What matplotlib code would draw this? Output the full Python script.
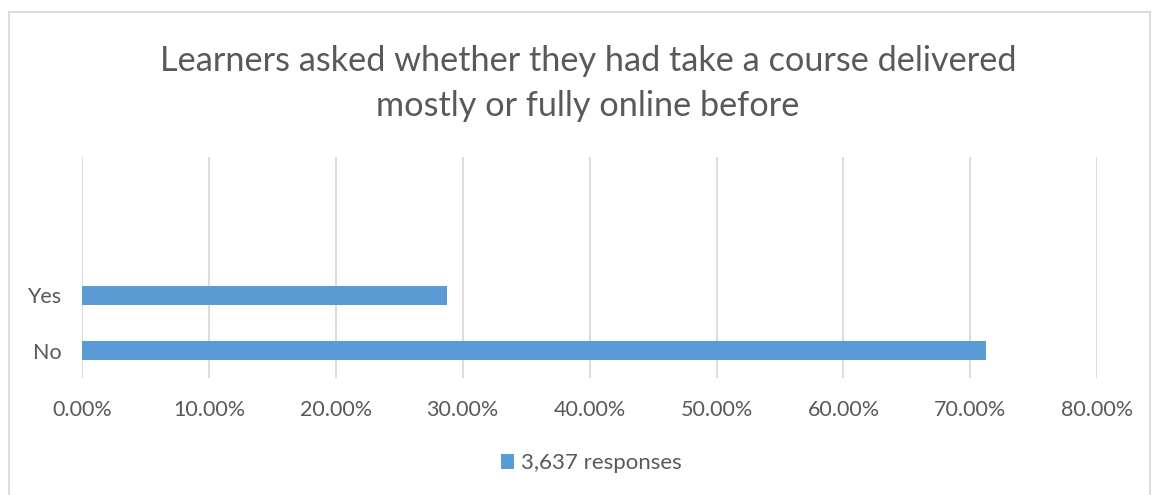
import matplotlib
matplotlib.use("Agg")
import matplotlib.pyplot as plt
from matplotlib.patches import Rectangle
from matplotlib.ticker import FuncFormatter

categories = ["No", "Yes"]
values = [71.26, 28.74]
series_name = "3,637 responses"
title = "Learners asked whether they had take a course delivered\nmostly or fully online before"
xticks = [0, 10, 20, 30, 40, 50, 60, 70, 80]

plt.rcParams['font.family'] = ['Lato', 'DejaVu Sans']
txt = "#595959"

fig = plt.figure(figsize=(11.55, 4.95), dpi=100)
ax = fig.add_axes([0.071, 0.236, 0.879, 0.447])

ypos = list(range(len(categories)))
ax.barh(ypos, values, height=0.35, color="#5B9BD5", label=series_name, zorder=3)
ax.set_yticks(ypos)
ax.set_yticklabels(categories)
ax.set_ylim(-0.5, 3.5)
ax.set_xlim(0, 80)
ax.set_xticks(xticks)
ax.xaxis.set_major_formatter(FuncFormatter(lambda v, p: f"{v:.2f}%"))
ax.grid(axis="x", color="#d9d9d9", linewidth=1.3, zorder=0)
for s in ax.spines.values():
    s.set_visible(False)
ax.tick_params(axis="both", length=0, labelsize=15.5, colors=txt)
ax.tick_params(axis="x", pad=16)
ax.tick_params(axis="y", pad=15)

fig.suptitle(title, x=0.509, y=0.91, fontsize=24.7, color=txt, linespacing=1.5)

fig.legend(loc="center", bbox_to_anchor=(0.512, 0.064), frameon=False,
           fontsize=16, labelcolor=txt, handlelength=0.6, handleheight=0.6,
           handletextpad=0.3)

fig.patches.append(Rectangle((9 / 1155, -0.05), 1141 / 1155, 1 - 12 / 495 + 0.05,
                             transform=fig.transFigure, fill=False,
                             edgecolor="#d9d9d9", linewidth=1.3))

fig.savefig("out.png", dpi=100)
